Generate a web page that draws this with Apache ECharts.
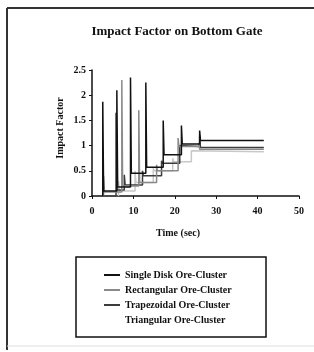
<!DOCTYPE html>
<html><head><meta charset="utf-8">
<script src="https://cdn.jsdelivr.net/npm/echarts@6/dist/echarts.min.js"></script>
<style>html,body{margin:0;padding:0;background:#fff}#c{width:314px;height:352px}</style>
</head><body><div id="c"></div>
<script>
const seriesNames = ['Single Disk Ore-Cluster','Rectangular Ore-Cluster','Trapezoidal Ore-Cluster','Triangular Ore-Cluster'];
const xTicks = [0,10,20,30,40,50];
const yTicks = [0,0.5,1,1.5,2,2.5];
// Single Disk
const tSingle = [2.6,2.6,2.8, 6.0,6.0,6.2, 9.3,9.3,9.5, 13.0,13.0,13.2, 17.2,17.2,17.4, 21.6,21.6,21.8, 26.0,26.0,26.2, 41.5];
const vSingle = [0,1.87,0.1, 0.1,2.1,0.18, 0.18,2.35,0.45, 0.45,2.25,0.57, 0.57,1.5,0.82, 0.82,1.4,1.03, 1.03,1.3,1.1, 1.1];
// Rectangular
const tRect = [2.8,2.8,3.0, 7.2,7.2,7.4, 11.3,11.3,11.5, 15.6,15.6,15.8, 20.8,20.8,21.0, 25.8,25.8,26.0, 41.5];
const vRect = [0,0.4,0.08, 0.08,2.3,0.2, 0.2,1.7,0.27, 0.27,0.62,0.5, 0.5,1.15,0.98, 0.98,1.05,0.93, 0.93];
// Trapezoidal
const tTrap = [5.8,5.8,6.0, 7.8,7.8,8.0, 12.2,12.2,12.4, 16.8,16.8,17.0, 21.2,21.2,21.4, 26.0,26.0,26.2, 41.5];
const vTrap = [0,1.65,0.12, 0.12,0.42,0.22, 0.22,0.5,0.4, 0.4,0.7,0.65, 0.65,1.0,0.98, 0.98,1.2,0.96, 0.96];
// Triangular
const tTri = [6.4,6.4,6.6, 10.4,10.4,10.6, 14.8,14.8,15.0, 19.5,19.5,19.7, 24.0,24.0,24.2, 41.5];
const vTri = [0,0.3,0.1, 0.1,0.5,0.27, 0.27,0.55,0.5, 0.5,0.75,0.68, 0.68,0.9,0.88, 0.88];

const colors = ['#111111','#8a8a8a','#3c3c3c','#c8c8c8'];
const pairs = (t,v)=>t.map((x,i)=>[x,v[i]]);
const data = [pairs(tSingle,vSingle),pairs(tRect,vRect),pairs(tTrap,vTrap),pairs(tTri,vTri)];
const F = 'Liberation Serif';

const chart = echarts.init(document.getElementById('c'));
chart.setOption({
  animation:false,
  backgroundColor:'#fff',
  grid:{left:92,right:15,top:70,bottom:156},
  xAxis:{type:'value',min:0,max:50,interval:10,
    axisLine:{lineStyle:{color:'#111',width:1.5}},
    axisTick:{show:true,length:3,lineStyle:{color:'#111'}},
    splitLine:{show:false},
    axisLabel:{margin:10,fontFamily:F,fontWeight:'bold',fontSize:10,color:'#111',formatter:v=>xTicks.includes(v)?String(v):''}},
  yAxis:{type:'value',min:0,max:2.5,interval:0.5,
    axisLine:{show:true,lineStyle:{color:'#111',width:1.5}},
    axisTick:{show:true,length:3,lineStyle:{color:'#111'}},
    splitLine:{show:false},
    axisLabel:{margin:6,fontFamily:F,fontWeight:'bold',fontSize:10,color:'#111',formatter:v=>yTicks.includes(v)?String(v):''}},
  legend:{orient:'vertical',left:99,top:265,itemWidth:16,itemHeight:2,itemGap:5,icon:'rect',
    textStyle:{fontFamily:F,fontWeight:'bold',fontSize:10,color:'#111'},
    data:seriesNames.map((n,i)=>i===3?{name:n,itemStyle:{color:'rgba(0,0,0,0)'}}:{name:n})},
  series:seriesNames.map((n,i)=>({name:n,type:'line',data:data[i],showSymbol:false,symbol:'none',
    color:colors[i],lineStyle:{width:1.5,color:colors[i]},z:4-i})),
  graphic:[
    {type:'line',shape:{x1:7,y1:8,x2:314,y2:8},style:{stroke:'#333',lineWidth:2}},
    {type:'line',shape:{x1:7,y1:8,x2:7,y2:350},style:{stroke:'#333',lineWidth:2}},
    {type:'line',shape:{x1:7,y1:346,x2:314,y2:346},style:{stroke:'#ddd',lineWidth:1}},
    {type:'text',x:177,y:32,style:{text:'Impact Factor on Bottom Gate',font:'bold 13px "Liberation Serif"',fill:'#111',align:'center',verticalAlign:'middle'}},
    {type:'text',x:178,y:233,style:{text:'Time (sec)',font:'bold 10px "Liberation Serif"',fill:'#111',align:'center',verticalAlign:'middle'}},
    {type:'text',x:60,y:128,rotation:Math.PI/2,style:{text:'Impact Factor',font:'bold 10px "Liberation Serif"',fill:'#111',align:'center',verticalAlign:'middle'}},
    {type:'rect',shape:{x:76,y:257,width:190,height:80},style:{fill:'none',stroke:'#111',lineWidth:1.5}}
  ]
});
</script></body></html>
